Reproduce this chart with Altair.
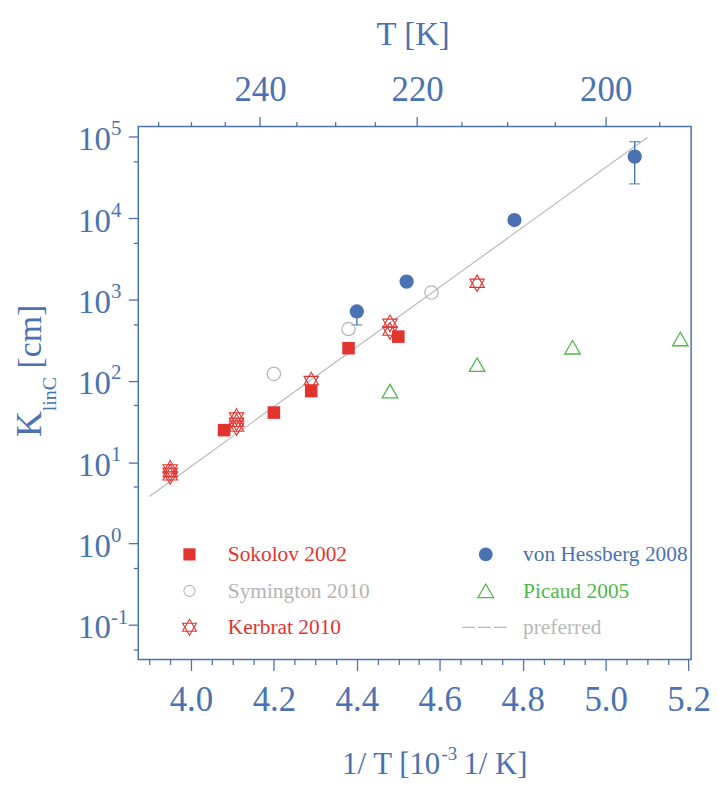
import altair as alt
import pandas as pd

BLUE = "#4a72b2"
RED = "#e2342f"
GREY = "#b4b4b4"
LGREY = "#b9b9b9"
GREEN = "#4db848"
FONT = "Liberation Serif"

# ---------------- data ----------------
sokolov_x = [4.08, 4.20, 4.29, 4.38, 4.50]
sokolov_y = [24.8, 40.8, 75, 252, 350]
symington_x = [4.20, 4.38, 4.58]
symington_y = [122, 434, 1217]
kerbrat_x = [3.95, 3.95, 3.95, 4.11, 4.11, 4.11, 4.29, 4.48, 4.48, 4.69]
kerbrat_y = [8.3, 7.5, 6.8, 36, 31, 27, 101, 510, 410, 1585]
hessberg_x = [4.40, 4.52, 4.78, 5.07]
hessberg_y = [713, 1660, 9490, 57000]
err_x = [4.40, 5.07]
err_lo = [487, 26400]
err_hi = [713, 87000]
cap_x = [4.40, 5.07, 5.07]
cap_y = [487, 26400, 87000]
picaud_x = [4.48, 4.69, 4.92, 5.18]
picaud_y = [75, 158, 259, 327]
preferred_x = [3.90, 5.10]
preferred_y = [3.8, 98000]

x_major = [4.0, 4.2, 4.4, 4.6, 4.8, 5.0, 5.2]
x_minor = [3.9, 3.95, 4.05, 4.1, 4.15, 4.25, 4.3, 4.35, 4.45, 4.5, 4.55,
           4.65, 4.7, 4.75, 4.85, 4.9, 4.95, 5.05, 5.1, 5.15]
T_major = [240, 220, 200]
T_minor = [255, 250, 245, 235, 230, 225, 215, 210, 205, 195]
y_major = [0.1, 1, 10, 100, 1000, 10000, 100000]
y_minor = [0.05, 0.5, 5, 50, 500, 5000, 50000]
y_exponents = ["-1", "0", "1", "2", "3", "4", "5"]

legend_labels = ["Sokolov 2002", "Symington 2010", "Kerbrat 2010",
                 "von Hessberg 2008", "Picaud 2005", "preferred"]

STAR = "M0,-1L0.866,0.5L-0.866,0.5Z M0,1L0.866,-0.5L-0.866,-0.5Z"

# ---------------- scales & axes ----------------
xs = alt.Scale(domain=[3.873, 5.206], nice=False, zero=False)
ys = alt.Scale(type="log", domain=[0.03767, 133660], nice=False)

common = dict(domain=False, grid=False, tickColor=BLUE, tickWidth=1.3,
              labelColor=BLUE, labelFont=FONT, titleColor=BLUE,
              titleFont=FONT, titleFontWeight="normal")

ax_bottom = alt.Axis(orient="bottom", values=x_major, tickSize=11, format=".1f",
                     labelFontSize=35, labelPadding=12, labelFlush=False,
                     labelOverlap=False, title=None, **common)
ax_bottom_minor = alt.Axis(orient="bottom", values=x_minor, tickSize=5,
                           labels=False, title=None, **common)
ax_top = alt.Axis(orient="top", values=[1000.0 / t for t in T_major], tickSize=10,
                  labelExpr="format(1000/datum.value, '.0f')", labelFontSize=35,
                  labelPadding=9, labelFlush=False, labelOverlap=False,
                  title="T [K]", titleFontSize=33, titleAlign="center",
                  titleBaseline="alphabetic", titleX=276, titleY=-83, **common)
ax_top_minor = alt.Axis(orient="top", values=[1000.0 / t for t in T_minor],
                        tickSize=5, labels=False, title=None, **common)
ax_left = alt.Axis(orient="left", values=y_major, tickSize=10, labelExpr="'10'",
                   labelFontSize=33, labelPadding=18, labelOffset=3,
                   labelOverlap=False, labelFlush=False, title=None, **common)
exp_expr = "[" + ",".join("'%s'" % s for s in y_exponents) + "][round(log(datum.value)/LN10)+1]"
ax_left_exp = alt.Axis(orient="left", values=y_major, ticks=False, labelExpr=exp_expr,
                       labelFontSize=21, labelPadding=28, labelAlign="left",
                       labelOffset=-8, labelOverlap=False, labelFlush=False,
                       title=None, **common)
ax_left_minor = alt.Axis(orient="left", values=y_minor, tickSize=5,
                         labels=False, title=None, **common)


def pts(xv, yv):
    return pd.DataFrame({"x": xv, "y": yv})


line = alt.Chart(pts(preferred_x, preferred_y)).mark_line(
    color=LGREY, strokeWidth=1.2).encode(
    x=alt.X("x:Q", scale=xs, axis=ax_bottom),
    y=alt.Y("y:Q", scale=ys, axis=ax_left))

err = alt.Chart(pd.DataFrame({"x": err_x, "lo": err_lo, "hi": err_hi})).mark_rule(
    color=BLUE, strokeWidth=1.4).encode(
    x=alt.X("x:Q", scale=xs, axis=ax_bottom_minor),
    y=alt.Y("lo:Q", scale=ys, axis=ax_left_minor),
    y2="hi:Q")

caps = alt.Chart(pts(cap_x, cap_y)).mark_tick(
    color=BLUE, orient="horizontal", size=11, thickness=1.4).encode(
    x=alt.X("x:Q", scale=xs, axis=ax_top),
    y=alt.Y("y:Q", scale=ys, axis=ax_left_exp))

sok = alt.Chart(pts(sokolov_x, sokolov_y)).mark_point(
    shape="square", filled=True, size=160, color=RED, opacity=1).encode(
    x=alt.X("x:Q", scale=xs, axis=ax_top_minor),
    y=alt.Y("y:Q", scale=ys, axis=None))


def plain(df, mark):
    return alt.Chart(df).mark_point(**mark).encode(
        x=alt.X("x:Q", scale=xs, axis=None),
        y=alt.Y("y:Q", scale=ys, axis=None))


sym = plain(pts(symington_x, symington_y),
            dict(shape="circle", filled=False, size=180, color=GREY, strokeWidth=1.2, opacity=1))
ker = plain(pts(kerbrat_x, kerbrat_y),
            dict(shape=STAR, filled=False, size=280, color=RED, strokeWidth=1.1, opacity=1))
hes = plain(pts(hessberg_x, hessberg_y),
            dict(shape="circle", filled=True, size=205, color=BLUE, opacity=1))
pic = plain(pts(picaud_x, picaud_y),
            dict(shape="triangle-up", filled=False, size=245, color=GREEN, strokeWidth=1.3, opacity=1))

# ---------------- legend ----------------
one = pd.DataFrame({"t": [0]})
leg_rows = [430.3, 467.0, 503.6]
leg_specs = [
    (legend_labels[0], RED, dict(shape="square", filled=True, size=150, color=RED, opacity=1), 51.5, 90.0, leg_rows[0]),
    (legend_labels[1], GREY, dict(shape="circle", filled=False, size=125, color=GREY, strokeWidth=1.1, opacity=1), 51.5, 90.0, leg_rows[1]),
    (legend_labels[2], RED, dict(shape=STAR, filled=False, size=260, color=RED, strokeWidth=1.1, opacity=1), 51.5, 90.0, leg_rows[2]),
    (legend_labels[3], BLUE, dict(shape="circle", filled=True, size=190, color=BLUE, opacity=1), 349.5, 387.0, leg_rows[0]),
    (legend_labels[4], GREEN, dict(shape="triangle-up", filled=False, size=250, color=GREEN, strokeWidth=1.2, opacity=1), 349.5, 387.0, leg_rows[1]),
]
legend_layers = []
for lab, col, mk, mx, tx, ty in leg_specs:
    legend_layers.append(alt.Chart(one).mark_point(**mk).encode(
        x=alt.value(mx), y=alt.value(ty)))
    legend_layers.append(alt.Chart(pd.DataFrame({"t": [lab]})).mark_text(
        align="left", baseline="middle", font=FONT, fontSize=21.5, color=col).encode(
        x=alt.value(tx), y=alt.value(ty + 1), text="t:N"))
legend_layers.append(alt.Chart(one).mark_rule(
    color=LGREY, strokeWidth=1.2, strokeDash=[13, 3]).encode(
    x=alt.value(325.7), x2=alt.value(371.2), y=alt.value(leg_rows[2])))
legend_layers.append(alt.Chart(pd.DataFrame({"t": [legend_labels[5]]})).mark_text(
    align="left", baseline="middle", font=FONT, fontSize=21.5, color=LGREY).encode(
    x=alt.value(387.0), y=alt.value(leg_rows[2] + 1), text="t:N"))

# ---------------- axis titles made of pieces (sub/superscripts) ----------------
ytitle = [
    ("K", 36, -98.3, 312.3),
    ("linC", 20, -82.3, 286.3),
    ("[cm]", 34, -98.3, 243.3),
]
title_layers = []
for txt, fs, tx, ty in ytitle:
    title_layers.append(alt.Chart(pd.DataFrame({"t": [txt]})).mark_text(
        align="left", baseline="alphabetic", angle=270, font=FONT,
        fontSize=fs, color=BLUE).encode(
        x=alt.value(tx), y=alt.value(ty), text="t:N"))

xtitle = [
    ("1/ T [10", 31, 205.0, 651.0),
    ("-3", 19, 305.0, 637.0),
    ("1/ K]", 31, 327.0, 651.0),
]
for txt, fs, tx, ty in xtitle:
    title_layers.append(alt.Chart(pd.DataFrame({"t": [txt]})).mark_text(
        align="left", baseline="alphabetic", font=FONT,
        fontSize=fs, color=BLUE).encode(
        x=alt.value(tx), y=alt.value(ty), text="t:N"))

chart = alt.layer(line, err, caps, sok, sym, ker, hes, pic,
                  *legend_layers, *title_layers).resolve_axis(
    x="independent", y="independent").properties(
    width=556, height=536,
    padding={"left": 131, "top": 117, "right": 20, "bottom": 124},
    autosize=alt.AutoSizeParams(type="none"),
).configure_view(stroke=BLUE, strokeWidth=1.5)

chart.save("out.html", embed_options={"renderer": "svg", "actions": False})
